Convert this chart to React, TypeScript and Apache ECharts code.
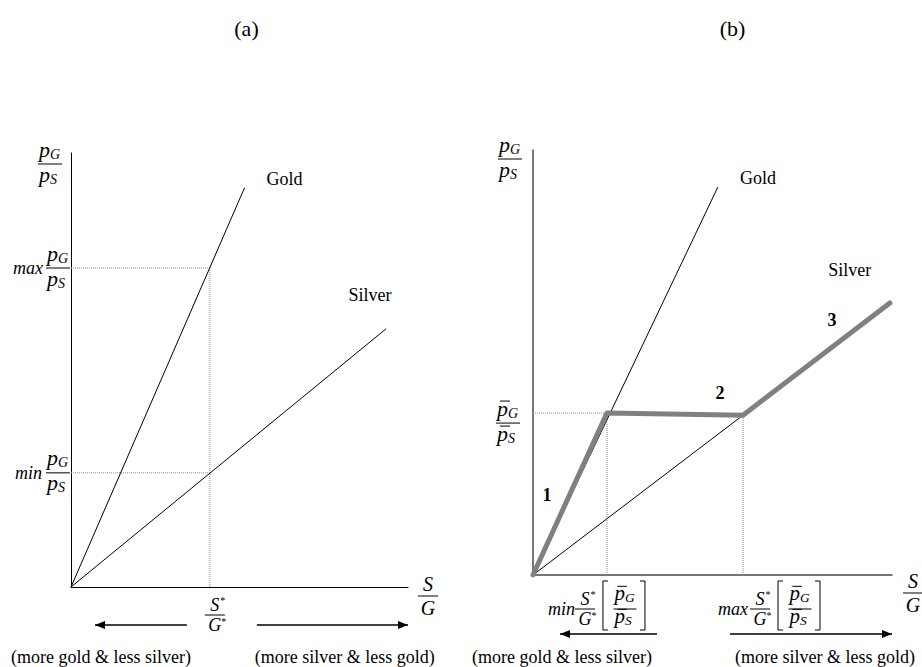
import React, { useEffect, useRef } from 'react';
import * as echarts from 'echarts';

const FONT = '"Liberation Serif", "Times New Roman", Times, serif';

// ---------- Panel (a) data ----------
const titlesAB = ['(a)', '(b)'];
const goldA: number[][] = [[0, 0], [5.15, 9.2]];
const silverA: number[][] = [[0, 0], [9.35, 5.95]];
const sStarA = 4.12;
const maxRatioA = 7.35;
const minRatioA = 2.63;

// ---------- Panel (b) data ----------
const goldB: number[][] = [[0, 0], [5.15, 9.13]];
const silverB: number[][] = [[0, 0], [5.85, 3.76]];
const pathB: number[][] = [[0, 0], [2.06, 3.81], [5.85, 3.76], [9.94, 6.4]];
const pBarRatioB = 3.81;
const minSB = 2.06;
const maxSB = 5.85;
const maxPB = 3.76;
const segmentLabels = ['1', '2', '3'];
const curveNames = ['Gold', 'Silver'];
const directionTexts = ['(more gold & less silver)', '(more silver & less gold)'];

export default function App() {
  const ref = useRef<HTMLDivElement>(null);

  useEffect(() => {
    const chart = echarts.init(ref.current!, null, { renderer: 'svg' });
    const thin = { color: '#000', width: 1 };
    const dotted = { color: '#8a8a8a', width: 1, type: 'dotted' };
    const mk = (data: number[][], gi: number, style: any, z = 2) => ({
      type: 'line', xAxisIndex: gi, yAxisIndex: gi, data, symbol: 'none',
      lineStyle: style, z, silent: true, animation: false,
    });
    const axis = (gi: number) => ({
      type: 'value', gridIndex: gi, min: 0, max: 10,
      axisLine: { show: true, onZero: false, lineStyle: gi === 0 ? { color: '#000', width: 1 } : { color: '#4a4a4a', width: 1.5 } },
      axisTick: { show: false }, axisLabel: { show: false }, splitLine: { show: false },
    });

    chart.setOption({
      animation: false,
      grid: [
        { left: 71, top: 153, width: 337, height: 434 },
        { left: 533, top: 150, width: 359, height: 425 },
      ],
      xAxis: [axis(0), axis(1)],
      yAxis: [axis(0), axis(1)],
      series: [
        mk(goldA, 0, thin),
        mk(silverA, 0, thin),
        mk([[0, maxRatioA], [sStarA, maxRatioA]], 0, dotted, 1),
        mk([[0, minRatioA], [sStarA, minRatioA]], 0, dotted, 1),
        mk([[sStarA, 0], [sStarA, maxRatioA]], 0, dotted, 1),
        mk(goldB, 1, thin),
        mk(silverB, 1, thin),
        mk([[0, pBarRatioB], [minSB, pBarRatioB]], 1, dotted, 1),
        mk([[minSB, 0], [minSB, pBarRatioB]], 1, dotted, 1),
        mk([[maxSB, 0], [maxSB, maxPB]], 1, dotted, 1),
        mk(pathB, 1, { color: '#808080', width: 5, cap: 'round', join: 'round' }, 5),
      ],
    });

    const pa = (x: number, y: number) => chart.convertToPixel({ gridIndex: 0 }, [x, y]) as number[];
    const pb = (x: number, y: number) => chart.convertToPixel({ gridIndex: 1 }, [x, y]) as number[];

    const G: any[] = [];
    const T = (x: number, y: number, text: string, size: number, o: any = {}) =>
      G.push({
        type: 'text', x, y, silent: true, z: 10,
        style: {
          text, fontFamily: FONT, fontSize: size,
          fontStyle: o.italic ? 'italic' : 'normal', fontWeight: o.bold ? 'bold' : 'normal',
          fill: '#000', align: o.align || 'center', verticalAlign: o.va || 'middle',
        },
      });
    const L = (x1: number, y1: number, x2: number, y2: number, w = 1, c = '#000') =>
      G.push({ type: 'line', silent: true, z: 10, shape: { x1, y1, x2, y2 }, style: { stroke: c, lineWidth: w } });
    const pTerm = (left: number, cy: number, sub: string, bar: boolean, size: number) => {
      const k = size / 22;
      T(left, cy, 'p', size, { italic: true, align: 'left' });
      T(left + 11 * k, cy + 5 * k, sub, 14 * k, { italic: true, align: 'left' });
      if (bar) L(left + 3 * k, cy - 7 * k, left + 13 * k, cy - 7 * k, 1);
    };
    const pFrac = (cx: number, barY: number, bar: boolean, size = 22, numOff = -15, denOff = 10) => {
      const k = size / 22;
      pTerm(cx - 11 * k, barY + numOff, 'G', bar, size);
      L(cx - 12 * k, barY, cx + 12 * k, barY, 1);
      pTerm(cx - 11 * k, barY + denOff, 'S', bar, size);
    };
    const sgFrac = (cx: number, barY: number, size: number, star: boolean, off = 11) => {
      T(cx, barY - off, 'S', size, { italic: true });
      L(cx - 10, barY, cx + 10, barY, 1);
      T(cx, barY + off, 'G', size, { italic: true });
      if (star) {
        T(cx + 8, barY - off - 5, '*', 10);
        T(cx + 9, barY + off - 4, '*', 10);
      }
    };
    const arrow = (x1: number, x2: number, y: number) => {
      L(x1, y, x2, y, 1.3);
      const d = x2 > x1 ? 1 : -1;
      G.push({ type: 'polygon', silent: true, z: 10, shape: { points: [[x2, y], [x2 - d * 10, y - 4], [x2 - d * 10, y + 4]] }, style: { fill: '#000' } });
    };
    const bracket = (x: number, top: number, bottom: number, d: number) =>
      G.push({ type: 'polyline', silent: true, z: 10, shape: { points: [[x + d * 5, top], [x, top], [x, bottom], [x + d * 5, bottom]] }, style: { stroke: '#000', lineWidth: 1, fill: null } });

    // ----- Panel (a) annotations -----
    const Oa = pa(0, 0);
    const topA = pa(0, 10);
    const endA = pa(10, 0);
    pFrac(Oa[0] - 21, topA[1] + 11, false);
    const yMax = pa(0, maxRatioA)[1];
    const yMin = pa(0, minRatioA)[1];
    T(Oa[0] - 28, yMax, 'max', 18, { italic: true, align: 'right' });
    pFrac(Oa[0] - 13, yMax, false);
    T(Oa[0] - 29, yMin, 'min', 18, { italic: true, align: 'right' });
    pFrac(Oa[0] - 13, yMin, false);
    const gEa = pa(goldA[1][0], goldA[1][1]);
    T(gEa[0] + 40, gEa[1] - 9, curveNames[0], 18);
    const sEa = pa(silverA[1][0], silverA[1][1]);
    T(sEa[0] - 16, sEa[1] - 34, curveNames[1], 18);
    sgFrac(endA[0] + 20, Oa[1] + 9, 20, false, 12);
    const xs = pa(sStarA, 0)[0];
    sgFrac(xs + 5, Oa[1] + 28, 18, true, 10);
    arrow(xs - 23, Oa[0] + 24, Oa[1] + 38);
    arrow(xs + 47, endA[0], Oa[1] + 38);
    T(Oa[0] + 30, Oa[1] + 70, directionTexts[0], 18);
    T(xs + 135, Oa[1] + 70, directionTexts[1], 18);
    T((Oa[0] + endA[0]) / 2 + 7, 28, titlesAB[0], 22);

    // ----- Panel (b) annotations -----
    const Ob = pb(0, 0);
    const topB = pb(0, 10);
    const endB = pb(10, 0);
    pFrac(Ob[0] - 23, topB[1] + 9, false);
    const yPbar = pb(0, pBarRatioB)[1];
    pFrac(Ob[0] - 25, yPbar + 10, true);
    const gEb = pb(goldB[1][0], goldB[1][1]);
    T(gEb[0] + 40, gEb[1] - 9, curveNames[0], 18);
    const pEb = pb(pathB[3][0], pathB[3][1]);
    T(pEb[0] - 40, pEb[1] - 33, curveNames[1], 18);
    const segPos = [pb(0.39, 1.88), pb(5.21, 4.28), pb(8.33, 6.0)];
    segmentLabels.forEach((s, i) => T(segPos[i][0], segPos[i][1], s, 18, { bold: true }));
    sgFrac(endB[0] + 21, Ob[1] + 18, 20, false, 12);
    const xMin = pb(minSB, 0)[0];
    const xMax = pb(maxSB, 0)[0];
    const by = Ob[1] + 34;
    T(xMin - 32, by, 'min', 18, { italic: true, align: 'right' });
    sgFrac(xMin - 22, by, 18, true, 10);
    bracket(xMin - 4, by - 28, by + 21, 1);
    pFrac(xMin + 18, by, true, 21, -16, 7);
    bracket(xMin + 38, by - 28, by + 21, -1);
    T(xMax + 5, by, 'max', 18, { italic: true, align: 'right' });
    sgFrac(xMax + 17, by, 18, true, 10);
    bracket(xMax + 35, by - 28, by + 21, 1);
    pFrac(xMax + 57, by, true, 21, -16, 7);
    bracket(xMax + 77, by - 28, by + 21, -1);
    arrow(xMin + 50, Ob[0] + 27, Ob[1] + 59);
    arrow(xMax - 13, endB[0], Ob[1] + 59);
    T(Ob[0] + 29, Ob[1] + 82, directionTexts[0], 18);
    T(xMax + 82, Ob[1] + 82, directionTexts[1], 18);
    T((Ob[0] + endB[0]) / 2 + 20, 28, titlesAB[1], 22);

    chart.setOption({ graphic: { elements: G } });

    return () => chart.dispose();
  }, []);

  return <div ref={ref} style={{ position: 'fixed', left: 0, top: 0, width: 922, height: 667, background: '#fff' }} />;
}
